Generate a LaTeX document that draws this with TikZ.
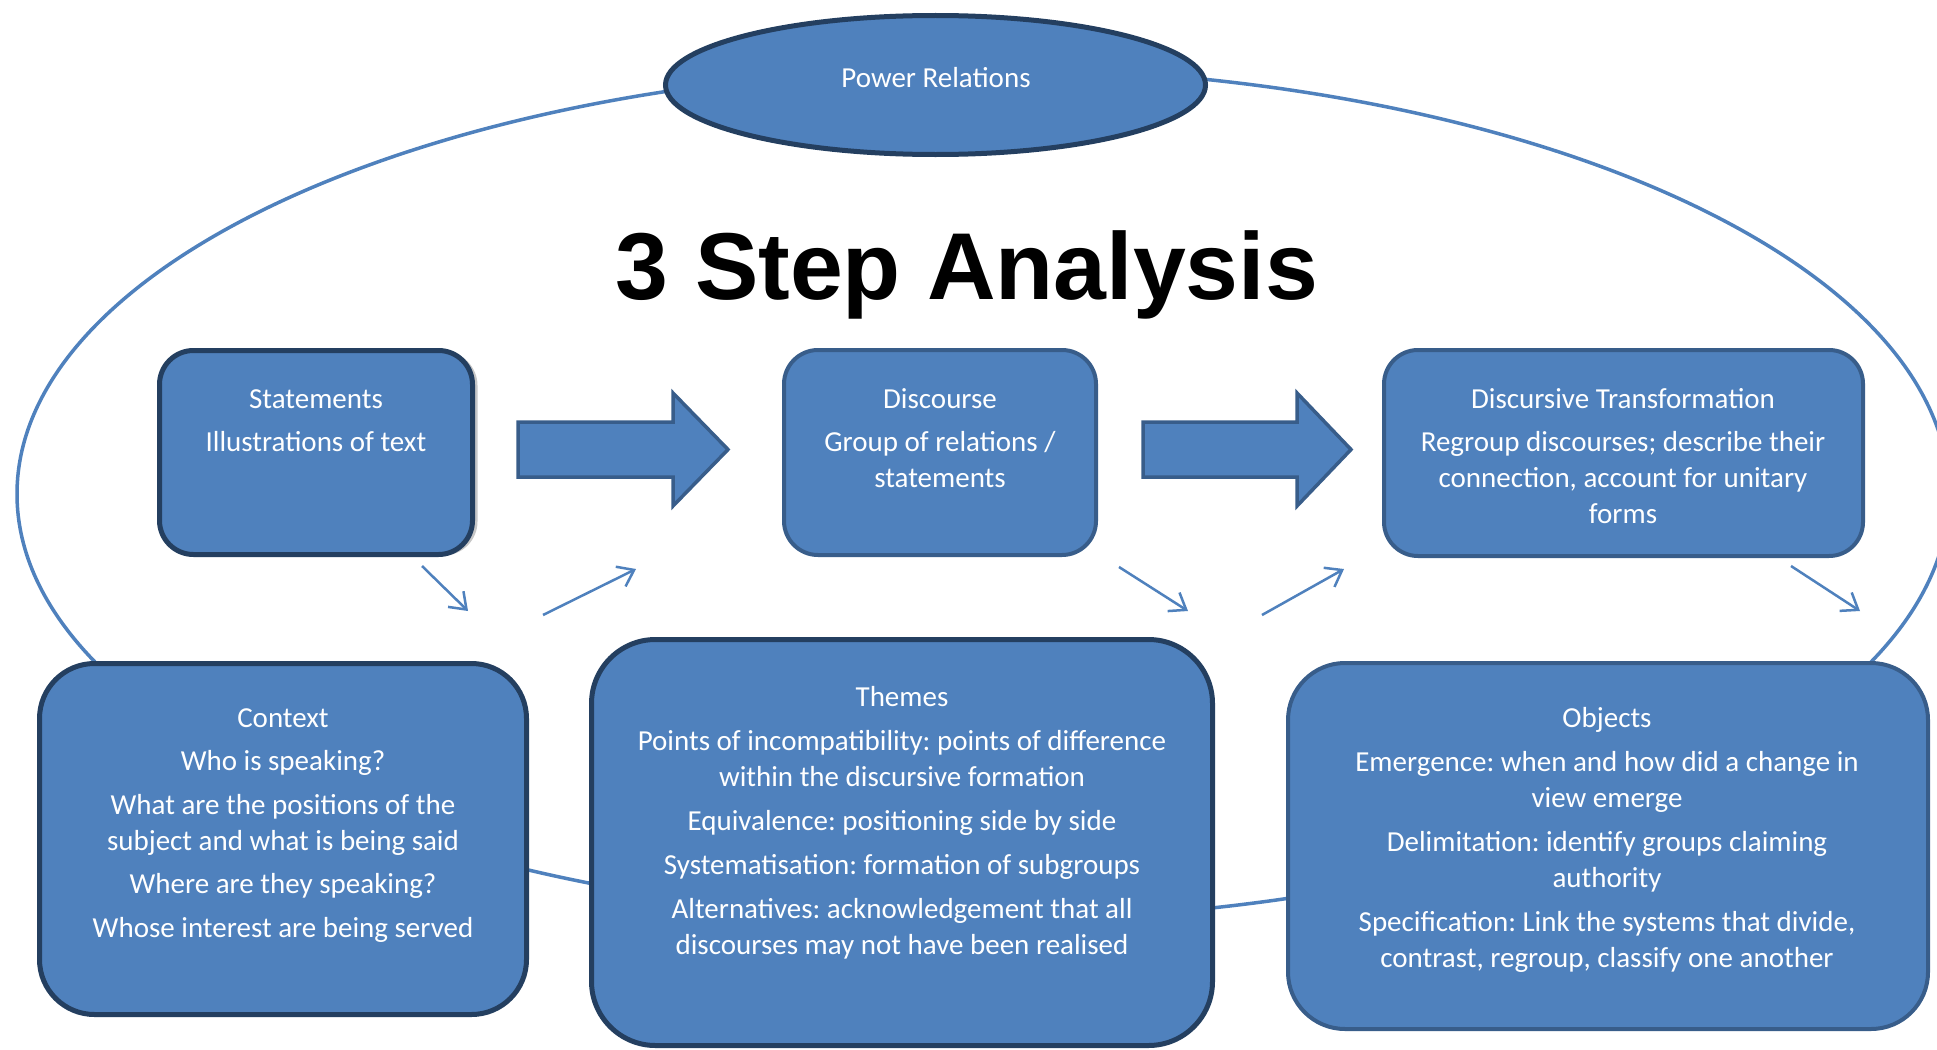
\documentclass[tikz,border=0pt]{standalone}
\usepackage{fontspec}
\setmainfont{Carlito}
\newfontfamily\titlefont{Liberation Sans}
\usetikzlibrary{shapes.geometric,arrows.meta,shadows}
\definecolor{fillblue}{HTML}{4F81BD}
\definecolor{darkedge}{HTML}{243F60}
\definecolor{midedge}{HTML}{385D8A}
\definecolor{linecol}{HTML}{4F81BD}
\frenchspacing
\newcommand\myblockarrow[3]{%
  \filldraw[blockarrow] (#1,422) -- (#2,422) -- (#2,393) -- (#3,449.5) -- (#2,506) -- (#2,477) -- (#1,477) -- cycle;}
\begin{document}
\begin{tikzpicture}[x=1pt,y=-1pt,
  box/.style={rectangle, rounded corners=#1, fill=fillblue, inner sep=0pt},
  darkbox/.style={draw=darkedge, line width=5pt},
  midbox/.style={draw=midedge, line width=4pt},
  txt/.style={text=white, font=\fontsize{29}{36}\selectfont, align=center, inner sep=0pt, anchor=north},
  loopline/.style={draw=linecol, line width=3.5pt},
  smallarrow/.style={draw=linecol, line width=2.5pt, -{Straight Barb[length=15pt,width=22pt,line width=2.5pt]}},
  blockarrow/.style={fill=fillblue, draw=midedge, line width=3.5pt, line join=miter}
]
\useasboundingbox (0,0) rectangle (1937,1049);
\clip (0,0) rectangle (1937,1049);
\fill[white] (0,0) rectangle (1937,1049);

% big loop behind everything
\draw[loopline] (983,494) ellipse [x radius=966pt, y radius=426pt];

% Power relations
\node[ellipse, fill=fillblue, draw=darkedge, line width=5pt, minimum width=540pt, minimum height=139pt, inner sep=0pt] (power) at (935.5,85) {};
\node[text=white, font=\fontsize{29}{36}\selectfont, inner sep=0pt, anchor=base] (powertxt) at (936,87) {Power Relations};

% title
\node[anchor=base, inner sep=0pt, font=\titlefont\bfseries\fontsize{95}{100}\selectfont] (title) at (967,299) {3 Step Analysis};

% top row boxes
\node[box=34pt, darkbox, minimum width=313pt, minimum height=204pt,
      drop shadow={shadow xshift=5pt, shadow yshift=-1pt, fill=black!22, opacity=1}] (statements) at (316,452.5) {};
\node[box=34pt, midbox, minimum width=312pt, minimum height=205pt] (discourse) at (940,452.5) {};
\node[box=34pt, midbox, minimum width=479pt, minimum height=206pt] (transform) at (1623.5,453) {};

\node[txt] (statementstxt) at (316,386) {\rule{0pt}{22pt}Statements\\[7pt]Illustrations of text};
\node[txt] (discoursetxt) at (940,386) {\rule{0pt}{22pt}Discourse\\[7pt]Group of relations /\\statements};
\node[txt] (transformtxt) at (1623,386) {\rule{0pt}{22pt}Discursive Transformation\\[7pt]Regroup discourses; describe their\\connection, account for unitary\\forms};

% block arrows
\myblockarrow{518}{673}{728}
\myblockarrow{1143}{1297}{1351}

% small arrows
\coordinate (s1a) at (422,566); \coordinate (s1b) at (468,611);
\coordinate (s2a) at (543,615); \coordinate (s2b) at (636,569);
\coordinate (s3a) at (1119,567); \coordinate (s3b) at (1188,611);
\coordinate (s4a) at (1262,615); \coordinate (s4b) at (1344,569);
\coordinate (s5a) at (1791,566); \coordinate (s5b) at (1860,611);
\draw[smallarrow] (s1a) -- (s1b);
\draw[smallarrow] (s2a) -- (s2b);
\draw[smallarrow] (s3a) -- (s3b);
\draw[smallarrow] (s4a) -- (s4b);
\draw[smallarrow] (s5a) -- (s5b);

% bottom row boxes
\node[box=55pt, darkbox, minimum width=487pt, minimum height=351pt] (context) at (283,839) {};
\node[box=64pt, darkbox, minimum width=621pt, minimum height=406pt] (themes) at (902,842.5) {};
\node[box=57pt, midbox, minimum width=640pt, minimum height=366pt] (objects) at (1608,846) {};

\node[txt] (contexttxt) at (283,705) {\rule{0pt}{22pt}Context\\[7.5pt]Who is speaking?\\[7.5pt]What are the positions of the\\subject and what is being said\\[7.5pt]Where are they speaking?\\[7.5pt]Whose interest are being served};
\node[txt] (themestxt) at (902,684) {\rule{0pt}{22pt}Themes\\[8pt]Points of incompatibility: points of difference\\within the discursive formation\\[8pt]Equivalence: positioning side by side\\[8pt]Systematisation: formation of subgroups\\[8pt]Alternatives: acknowledgement that all\\discourses may not have been realised};
\node[txt] (objectstxt) at (1607,705) {\rule{0pt}{22pt}Objects\\[8pt]Emergence: when and how did a change in\\view emerge\\[8pt]Delimitation: identify groups claiming\\authority\\[8pt]Specification: Link the systems that divide,\\contrast, regroup, classify one another};
\end{tikzpicture}
\end{document}
